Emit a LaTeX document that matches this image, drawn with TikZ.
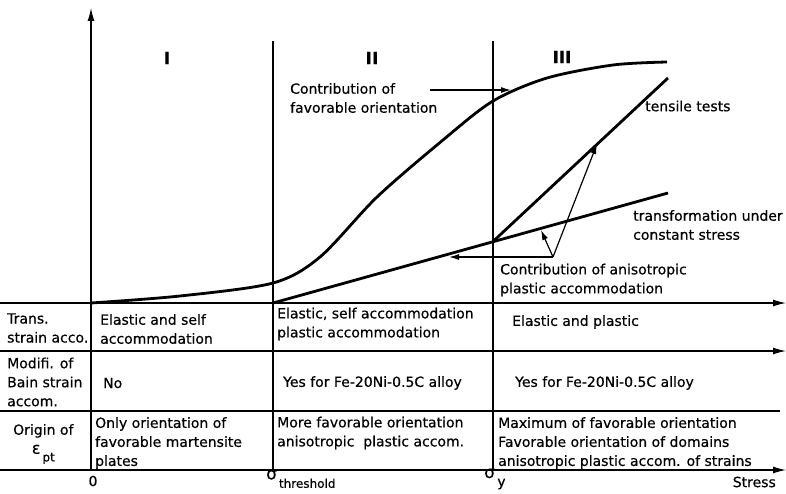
\documentclass[tikz,border=0pt]{standalone}
\usepackage{fontspec}
\setmainfont[FakeBold=0.5]{DejaVu Sans}
\usetikzlibrary{arrows.meta}

\tikzset{
  gridline/.style={line width=1.2pt},
  bigline/.style={line width=2.8pt},
  tip/.style={-{Latex[length=13pt,width=7pt]}},
  smalltip/.style={-{Latex[length=10pt,width=6pt]}},
  txt/.style={anchor=west,inner sep=0pt,align=left,font=\fontsize{14}{19}\selectfont},
  roman/.style={inner sep=0pt,font=\fontsize{17}{20}\selectfont\bfseries}
}

\begin{document}
\begin{tikzpicture}[x=1pt,y=-1pt]
    \useasboundingbox (0,0) rectangle (786,494);
    \coordinate (o) at (91,470);
    \coordinate (ytop) at (91,8);
    \coordinate (thtop) at (273,41);
    \coordinate (thbot) at (273,470);
    \coordinate (sytop) at (493,41);
    \coordinate (sybot) at (493,470);
    \coordinate (r1l) at (0,303);
    \coordinate (r1r) at (786,303);
    \coordinate (r2l) at (0,351);
    \coordinate (r2r) at (786,351);
    \coordinate (r3l) at (0,411);
    \coordinate (r3r) at (780,411);
    \coordinate (r4l) at (0,470);
    \coordinate (r4r) at (786,470);
    \coordinate (a0) at (273,303);
    \coordinate (a1) at (668,193);
    \coordinate (yp) at (493,241.5);
    \coordinate (tt) at (668,78);
    \coordinate (v) at (553,257);
    \coordinate (t1) at (597,144);
    \coordinate (t2) at (541,230);
    \coordinate (t3) at (449,257);
    \coordinate (c1) at (430,90);
    \coordinate (c2) at (511,90);

    \draw[gridline,tip] (o) -- (ytop);
    \draw[gridline] (thtop) -- (thbot);
    \draw[gridline] (sytop) -- (sybot);
    \draw[gridline,tip] (r1l) -- (r1r);
    \draw[gridline,tip] (r2l) -- (r2r);
    \draw[gridline] (r3l) -- (r3r);
    \draw[gridline,tip] (r4l) -- (r4r);

    \draw[bigline] plot[smooth,tension=0.5] coordinates {(91,303) (180,296) (273,283) (320,257)
      (377,197) (443,140) (493,101) (547,78) (613,65) (667,62)};
    \draw[bigline] (a0) -- (a1);
    \draw[bigline] (yp) -- (tt);
    \draw[gridline,smalltip] (v) -- (t1);
    \draw[gridline,smalltip] (v) -- (t2);
    \draw[gridline,smalltip] (v) -- (t3);
    \draw[gridline,smalltip] (c1) -- (c2);

    \node[roman] (one) at (167,58) {I};
    \node[roman] (two) at (372,58) {II};
    \node[roman] (three) at (562,57) {III};
    \node[txt] (fav) at (290,98) {Contribution of\\favorable orientation};
    \node[txt] (tens) at (645,106) {tensile tests};
    \node[txt] (trans) at (633,225) {transformation under\\constant stress};
    \node[txt] (aniso) at (500,280) {Contribution of anisotropic\\plastic accommodation};

    \node[txt] (lab1) at (7,328) {Trans.\\strain acco.};
    \node[txt] (c11) at (100,329) {Elastic and self\\accommodation};
    \node[txt] (c12) at (277,324) {Elastic, self accommodation\\plastic accommodation};
    \node[txt] (c13) at (512,322) {Elastic and plastic};
    \node[txt] (lab2) at (7,382) {Modifi. of\\Bain strain\\accom.};
    \node[txt] (c21) at (103,383) {No};
    \node[txt] (c22) at (283,383) {Yes for Fe-20Ni-0.5C alloy};
    \node[txt] (c23) at (515,383) {Yes for Fe-20Ni-0.5C alloy};
    \node[txt,align=center] (lab3) at (13,444) {Origin of\\{\fontsize{16}{19}\selectfont ε}\raisebox{-1ex}{\fontsize{12}{14}\selectfont\,pt}};
    \node[txt] (c31) at (95,443) {Only orientation of\\favorable martensite\\plates};
    \node[txt] (c32) at (277,433) {More favorable orientation\\anisotropic\ \ plastic accom.};
    \node[txt] (c33) at (498,443) {Maximum of favorable orientation\\Favorable orientation of domains\\anisotropic plastic accom. of strains};

    \node[txt,anchor=center] (zero) at (93,481) {0};
    \node[txt] (sth) at (266,479) {{\fontsize{17}{19}\selectfont σ}\raisebox{-1.1ex}{\fontsize{12}{14}\selectfont\,threshold}};
    \node[txt] (sy) at (484,479) {{\fontsize{17}{19}\selectfont σ}\raisebox{-1.1ex}{\,y}};
    \node[txt,anchor=east] (stress) at (776,482) {Stress};
\end{tikzpicture}
\end{document}
